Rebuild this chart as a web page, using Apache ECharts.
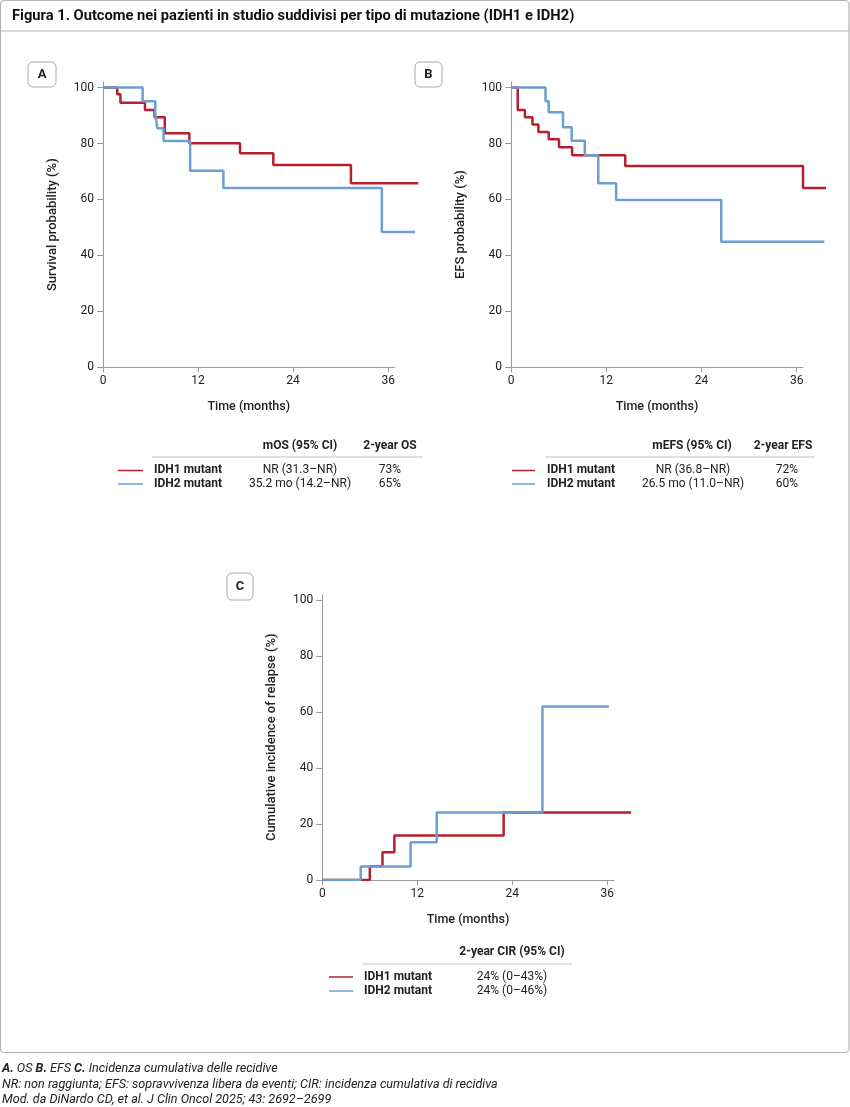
<!DOCTYPE html>
<html>
<head>
<meta charset="utf-8">
<script src="https://cdn.jsdelivr.net/npm/echarts@6/dist/echarts.min.js"></script>
<style>
html,body{margin:0;padding:0;background:#fff;}
#chart{width:850px;height:1107px;}
</style>
</head>
<body>
<div id="chart"></div>
<script>
// ---- Data ----
const xTicks = [0, 12, 24, 36];
const yTicks = [0, 20, 40, 60, 80, 100];

// Panel A: overall survival
const osIdh1Time = [0, 1.8, 2.2, 5.3, 6.5, 7.8, 10.9, 17.3, 21.5, 31.3, 39.8];
const osIdh1Val  = [100, 97.6, 94.6, 92.0, 89.4, 83.7, 80.1, 76.5, 72.3, 65.8, 65.8];
const osIdh2Time = [0, 5.0, 6.6, 6.85, 7.65, 11.0, 15.2, 35.2, 39.4];
const osIdh2Val  = [100, 95.1, 90.6, 85.5, 80.9, 70.3, 64.1, 48.4, 48.4];

// Panel B: event-free survival
const efsIdh1Time = [0, 0.85, 1.75, 2.7, 3.45, 4.75, 6.05, 7.7, 14.4, 36.8, 39.7];
const efsIdh1Val  = [100, 92.0, 89.4, 86.8, 84.1, 81.5, 78.7, 75.8, 72.0, 64.1, 64.1];
const efsIdh2Time = [0, 4.35, 4.75, 6.55, 7.65, 9.3, 11.0, 13.25, 26.5, 39.5];
const efsIdh2Val  = [100, 95.1, 91.2, 85.8, 81.0, 75.8, 65.8, 59.8, 44.9, 44.9];

// Panel C: cumulative incidence of relapse
const cirIdh1Time = [0, 6.0, 7.6, 9.1, 22.9, 39.0];
const cirIdh1Val  = [0, 4.9, 9.9, 15.9, 24.1, 24.1];
const cirIdh2Time = [0, 4.85, 11.15, 14.45, 27.8, 36.2];
const cirIdh2Val  = [0, 4.8, 13.5, 24.1, 62.0, 62.0];

const seriesNames = ['IDH1 mutant', 'IDH2 mutant'];
const legendA = { head: ['mOS (95% CI)', '2-year OS'], ci: ['NR (31.3–NR)', '35.2 mo (14.2–NR)'], pct: ['73%', '65%'] };
const legendB = { head: ['mEFS (95% CI)', '2-year EFS'], ci: ['NR (36.8–NR)', '26.5 mo (11.0–NR)'], pct: ['72%', '60%'] };
const legendC = { head: ['2-year CIR (95% CI)'], ci: ['24% (0–43%)', '24% (0–46%)'] };

const titleText = 'Figura 1. Outcome nei pazienti in studio suddivisi per tipo di mutazione (IDH1 e IDH2)';
const yNames = ['Survival probability (%)', 'EFS probability (%)', 'Cumulative incidence of relapse (%)'];
const xName = 'Time (months)';

// axis extents: drawn axis stops just past 36 months, curves run to ~40 months
const AXIS_XMAX = 36.8;
const PLOT_XMAX = 40;
const YMAX = 102;

// ---- Styles ----
const RED = '#b5202e';
const BLUE = '#6b9fd2';
const AX = '#9a9a9a';
const TXT = '#222';
const FONT = 'Roboto';

function pairs(t, v) { return t.map((x, i) => [x, v[i]]); }

const panels = [
  { left: 103, top: 82, width: 291.5, height: 285.3 },
  { left: 511, top: 82, width: 292, height: 285.3 },
  { left: 322.3, top: 594.5, width: 291.4, height: 285.5 }
];
const grids = [];
panels.forEach(p => {
  grids.push({ left: p.left, top: p.top, width: p.width, height: p.height });
  grids.push({ left: p.left, top: p.top, width: p.width * PLOT_XMAX / AXIS_XMAX, height: p.height });
});

const xAxes = [], yAxes = [];
panels.forEach((p, i) => {
  xAxes.push({
    gridIndex: 2 * i, type: 'value', min: 0, max: AXIS_XMAX,
    axisLine: { show: true, lineStyle: { color: AX, width: 1 } },
    axisTick: { show: true, length: 5, customValues: xTicks, lineStyle: { color: AX } },
    axisLabel: { customValues: xTicks, color: TXT, fontSize: 12, fontFamily: FONT, margin: 8 },
    splitLine: { show: false },
    name: xName, nameLocation: 'middle', nameGap: 33,
    nameTextStyle: { color: TXT, fontSize: 12.5, fontWeight: 500, fontFamily: FONT }
  });
  xAxes.push({
    gridIndex: 2 * i + 1, type: 'value', min: 0, max: PLOT_XMAX, show: false
  });
  yAxes.push({
    gridIndex: 2 * i, type: 'value', min: 0, max: YMAX,
    axisLine: { show: true, lineStyle: { color: AX, width: 1 } },
    axisTick: { show: true, length: 6, customValues: yTicks, lineStyle: { color: AX } },
    axisLabel: { customValues: yTicks, color: TXT, fontSize: 12, fontFamily: FONT, margin: 9 },
    splitLine: { show: false },
    name: yNames[i], nameLocation: 'middle', nameGap: 44, nameRotate: 90,
    nameTextStyle: { color: TXT, fontSize: 13, fontWeight: 500, fontFamily: FONT }
  });
  yAxes.push({
    gridIndex: 2 * i + 1, type: 'value', min: 0, max: YMAX, show: false
  });
});

function line(panel, t, v, color, name) {
  const idx = 2 * panel + 1;
  return {
    type: 'line', name: name, xAxisIndex: idx, yAxisIndex: idx, step: 'end',
    data: pairs(t, v), symbol: 'none', silent: true,
    lineStyle: { color: color, width: 2.5 }, itemStyle: { color: color }
  };
}

// ---- Graphic helpers ----
const g = [];
function txt(x, y, s, opt) {
  g.push({ type: 'text', x: x, y: y, silent: true, style: Object.assign({
    text: s, fill: TXT, fontSize: 12, fontFamily: FONT, textAlign: 'left', textVerticalAlign: 'middle'
  }, opt || {}) });
}
function hline(x1, x2, y, color, w) {
  g.push({ type: 'line', silent: true, shape: { x1: x1, y1: y, x2: x2, y2: y }, style: { stroke: color, lineWidth: w } });
}
function box(x, y, w, h, label) {
  g.push({ type: 'rect', silent: true, shape: { x: x, y: y, width: w, height: h, r: 5 }, style: { fill: '#fff', stroke: '#aaa', lineWidth: 1 } });
  txt(x + w / 2, y + h / 2 + 0.5, label, { textAlign: 'center', fontWeight: 'bold', fontSize: 13 });
}

// frame
g.push({ type: 'rect', silent: true, z: -10, shape: { x: 0.5, y: 0.5, width: 848.5, height: 1052, r: 4 }, style: { fill: 'none', stroke: '#b4b4b4', lineWidth: 1.2 } });
hline(0.5, 849, 31, '#b4b4b4', 1.2);
txt(12, 16.5, titleText, { fontWeight: 'bold', fontSize: 14.7, fill: '#111' });

box(28, 62, 28, 25, 'A');
box(415, 62, 27, 25, 'B');
box(227, 573, 26, 27, 'C');

// legend A
txt(300, 446, legendA.head[0], { textAlign: 'center', fontWeight: 'bold' });
txt(390, 446, legendA.head[1], { textAlign: 'center', fontWeight: 'bold' });
hline(152, 423, 457, '#c4c4c4', 1);
hline(118, 143, 470.5, RED, 1.5);
hline(118, 143, 484, BLUE, 1.5);
txt(154, 470, seriesNames[0], { fontWeight: 'bold' });
txt(154, 484, seriesNames[1], { fontWeight: 'bold' });
txt(300, 470, legendA.ci[0], { textAlign: 'center' });
txt(300, 484, legendA.ci[1], { textAlign: 'center' });
txt(390, 470, legendA.pct[0], { textAlign: 'center' });
txt(390, 484, legendA.pct[1], { textAlign: 'center' });

// legend B
txt(692, 446, legendB.head[0], { textAlign: 'center', fontWeight: 'bold' });
txt(783, 446, legendB.head[1], { textAlign: 'center', fontWeight: 'bold' });
hline(545, 815, 457, '#c4c4c4', 1);
hline(512, 535, 470.5, RED, 1.5);
hline(512, 535, 484, BLUE, 1.5);
txt(547, 470, seriesNames[0], { fontWeight: 'bold' });
txt(547, 484, seriesNames[1], { fontWeight: 'bold' });
txt(693, 470, legendB.ci[0], { textAlign: 'center' });
txt(693, 484, legendB.ci[1], { textAlign: 'center' });
txt(787, 470, legendB.pct[0], { textAlign: 'center' });
txt(787, 484, legendB.pct[1], { textAlign: 'center' });

// legend C
txt(512, 952, legendC.head[0], { textAlign: 'center', fontWeight: 'bold' });
hline(363, 572, 964, '#c4c4c4', 1);
hline(329, 353, 977, RED, 1.5);
hline(329, 353, 991, BLUE, 1.5);
txt(364, 977, seriesNames[0], { fontWeight: 'bold' });
txt(364, 991, seriesNames[1], { fontWeight: 'bold' });
txt(512, 977, legendC.ci[0], { textAlign: 'center' });
txt(512, 991, legendC.ci[1], { textAlign: 'center' });

// footer
const FS = 12.6;
g.push({ type: 'text', x: 2, y: 1069, silent: true, style: {
  text: '{b|A.} OS {b|B.} EFS {b|C.} Incidenza cumulativa delle recidive', fill: TXT, fontSize: FS, fontStyle: 'italic', fontFamily: FONT, textVerticalAlign: 'middle',
  rich: { b: { fontWeight: 'bold', fontStyle: 'italic', fontSize: FS, fontFamily: FONT, fill: TXT } } } });
txt(2, 1085, 'NR: non raggiunta; EFS: sopravvivenza libera da eventi; CIR: incidenza cumulativa di recidiva', { fontSize: FS, fontStyle: 'italic' });
txt(2, 1100, 'Mod. da DiNardo CD, et al. J Clin Oncol 2025; 43: 2692–2699', { fontSize: FS, fontStyle: 'italic' });

const chart = echarts.init(document.getElementById('chart'), null, { renderer: 'canvas' });
chart.setOption({
  backgroundColor: '#fff',
  animation: false,
  grid: grids,
  xAxis: xAxes,
  yAxis: yAxes,
  series: [
    line(0, osIdh1Time, osIdh1Val, RED, seriesNames[0]),
    line(0, osIdh2Time, osIdh2Val, BLUE, seriesNames[1]),
    line(1, efsIdh1Time, efsIdh1Val, RED, seriesNames[0]),
    line(1, efsIdh2Time, efsIdh2Val, BLUE, seriesNames[1]),
    line(2, cirIdh1Time, cirIdh1Val, RED, seriesNames[0]),
    line(2, cirIdh2Time, cirIdh2Val, BLUE, seriesNames[1])
  ],
  graphic: g
});
</script>
</body>
</html>
